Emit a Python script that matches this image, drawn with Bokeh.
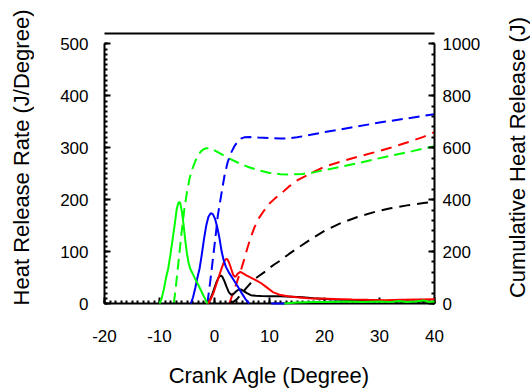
import math
from bokeh.plotting import figure
from bokeh.layouts import row
from bokeh.models import Range1d, LinearAxis, SingleIntervalTicker, FixedTicker
from bokeh.embed import file_html
from bokeh.resources import INLINE

nan = math.nan

# ---- Heat release rate (J/Degree), left axis ----
green_hrr_x = [-10.0, -9.6, -9.2, -8.8, -8.4, -8.0, -7.6, -7.2, -6.9, -6.6, -6.4, -6.2, -5.9, -5.6, -5.3, -5.0,
               -4.7, -4.4, -4.0, -3.5, -3.0, -2.5, -2.0, -1.6, -1.3,
               nan, 12.7, 15, 18, 21, 24, 27, 30, 32, 33.5, 35, 36.5, 38, 39, 40]
green_hrr_y = [0, 10, 28, 50, 68, 95, 125, 155, 180, 193, 196, 192, 175, 150, 120, 96,
               78, 67, 58, 47, 37, 26, 15, 7, 0,
               nan, 0, 2, 3, 3, 4, 3, 4, 3, 5, 3, 4, 6, 3, 4]

blue_hrr_x = [-4.3, -3.9, -3.5, -3.1, -2.7, -2.3, -1.9, -1.5, -1.1, -0.7, -0.3, 0.1, 0.5, 0.9, 1.3, 1.7,
              2.1, 2.6, 3.2, 3.8, 4.4, 5.0, 5.6, 6.3, nan, 10.3, 12.8]
blue_hrr_y = [0, 12, 30, 50, 68, 95, 125, 150, 167, 174, 172, 163, 147, 126, 100, 82,
              70, 60, 50, 40, 30, 19, 9, 0, nan, 0, 0]

red_hrr_x = [-1.2, -0.7, -0.2, 0.3, 0.8, 1.3, 1.7, 2.0, 2.3, 2.6, 3.0, 3.4, 3.8, 4.2, 4.7, 5.2, 5.8, 6.6,
             7.5, 8.5, 9.5, 10.6, 11.8, 13.3, 15, 17, 19, 22, 25, 28, 31, 34, 37, 40]
red_hrr_y = [0, 8, 20, 36, 52, 68, 79, 85, 86, 80, 68, 55, 51, 57, 61, 58, 54, 50,
             45, 39, 31, 22, 17, 14, 12, 10, 9.5, 8.5, 7.7, 7, 6.5, 7, 7.5, 8]

black_hrr_x = [-1.2, -0.8, -0.4, 0.0, 0.4, 0.8, 1.1, 1.4, 1.8, 2.2, 2.6, 3.0, 3.4, 3.9, 4.4, 4.8, 5.3, 5.9,
               6.6, 7.5, 8.5, 10, 12, 14, 16, 18, 20, 23, 26, 30, 34, 37, 40]
black_hrr_y = [0, 8, 18, 30, 42, 51, 54, 52, 43, 32, 22, 17, 18, 23, 27, 27, 24, 20,
               16, 15, 14.5, 14, 14, 13, 12, 10, 8.5, 7, 6, 5, 4, 4, 3.5]

# ---- Cumulative heat release (J), right axis ----
green_cum_x = [-7.4, -7.0, -6.5, -6.0, -5.5, -5.0, -4.5, -4.0, -3.5, -3.0, -2.5, -2.0, -1.5, -1.0, -0.5, 0,
               1, 2, 3, 4, 6, 8, 10, 12, 14, 16, 18, 20, 23, 26, 29, 32, 36, 40]
green_cum_y = [0, 70, 170, 270, 360, 430, 485, 520, 548, 570, 585, 594, 598, 598, 595, 590,
               578, 566, 555, 545, 527, 513, 503, 498, 497, 499, 505, 514, 527, 540, 555, 569, 587, 606]

blue_cum_x = [-1.3, -0.8, -0.3, 0.2, 0.6, 1.2, 1.8, 2.4, 3.0, 3.6, 4.2, 4.8, 5.4, 6.5, 8, 10, 12, 13.3,
              15, 17.5, 20, 23, 26, 30, 35, 40]
blue_cum_y = [0, 80, 170, 260, 338, 415, 490, 545, 580, 605, 623, 635, 640, 641, 639, 637, 636, 636,
              640, 650, 660, 671, 682, 697, 713, 729]

red_cum_x = [2.7, 3.2, 3.8, 4.3, 4.8, 5.4, 6.0, 6.6, 7.3, 8.1, 9.05, 10, 11, 12.1, 13.5, 15.1, 17.6,
             20, 23, 26, 29, 32, 35, 38, 40]
red_cum_y = [0, 30, 65, 97, 128, 170, 215, 256, 295, 330, 359, 385, 405, 423, 450, 475, 502,
             527, 547, 565, 582, 600, 620, 642, 660]

black_cum_x = [3.0, 4.0, 5.0, 6.0, 7.0, 8.0, 9.0, 10.0, 11, 12, 13.5, 15, 17, 20, 23, 26, 29, 32, 35, 38, 40]
black_cum_y = [0, 15, 40, 65, 88, 105, 120, 137, 152, 166, 190, 212, 240, 280, 310, 333, 352, 367, 378, 387, 392]

x_label = "Crank Agle (Degree)"
left_label = "Heat Release Rate (J/Degree)"
right_label = "Cumulative Heat Release (J)"

FONT = "Liberation Sans"
LABEL_SIZE = "22px"

p = figure(frame_width=330, frame_height=270, output_backend="svg", toolbar_location=None,
           x_range=Range1d(-20, 40), y_range=Range1d(0, 520),
           x_axis_location=None, y_axis_location=None,
           min_border_left=70, min_border_right=45, min_border_top=33, min_border_bottom=89)
p.extra_y_ranges = {"cum": Range1d(0, 1040)}
p.outline_line_color = None
p.xgrid.visible = False
p.ygrid.visible = False


def style(ax, interval, minors, bounds, tick_standoff):
    ax.ticker = SingleIntervalTicker(interval=interval, num_minor_ticks=minors)
    ax.bounds = bounds
    ax.axis_line_width = 2
    ax.axis_line_color = "black"
    ax.major_tick_in = 6
    ax.major_tick_out = 0
    ax.minor_tick_in = 3
    ax.minor_tick_out = 0
    ax.major_tick_line_width = 2
    ax.minor_tick_line_width = 2
    ax.major_tick_line_color = "black"
    ax.minor_tick_line_color = "black"
    ax.major_label_text_font = FONT
    ax.major_label_text_font_size = "17px"
    ax.major_label_text_color = "black"
    ax.major_label_standoff = tick_standoff


xax = LinearAxis()
style(xax, 10, 10, (-20, 40), 26)
xax.major_label_overrides = {-20: "-20", -10: "-10"}
xax.axis_label = x_label
xax.axis_label_text_font = FONT
xax.axis_label_text_font_size = LABEL_SIZE
xax.axis_label_text_font_style = "normal"
xax.axis_label_text_color = "black"
xax.axis_label_standoff = 18
p.add_layout(xax, "below")

lax = LinearAxis()
style(lax, 100, 10, (0, 500), 16)
p.add_layout(lax, "left")

rax = LinearAxis(y_range_name="cum")
style(rax, 200, 5, (0, 1000), 8)
p.add_layout(rax, "right")

tax = LinearAxis(ticker=FixedTicker(ticks=[]), axis_line_width=2, axis_line_color="black",
                 major_tick_in=0, major_tick_out=0, minor_tick_in=0, minor_tick_out=0,
                 major_label_text_font_size="0px")
p.add_layout(tax, "above")

W = 2
p.line(black_cum_x, black_cum_y, color="black", line_width=W, line_dash="11 7", y_range_name="cum")
p.line(red_cum_x, red_cum_y, color="#ff0000", line_width=W, line_dash="11 7", y_range_name="cum")
p.line(green_cum_x, green_cum_y, color="#00ff00", line_width=W, line_dash="11 6", y_range_name="cum")
p.line(blue_cum_x, blue_cum_y, color="#0000ff", line_width=W, line_dash="11 6", y_range_name="cum")

p.line(black_hrr_x, black_hrr_y, color="black", line_width=W, level="overlay")
p.line(red_hrr_x, red_hrr_y, color="#ff0000", line_width=W, level="overlay")
p.line(blue_hrr_x, blue_hrr_y, color="#0000ff", line_width=W, level="overlay")
p.line(green_hrr_x, green_hrr_y, color="#00ff00", line_width=W, level="overlay")


def side_title(text, border_left):
    """A narrow empty figure whose left axis carries a vertical title (reads bottom-to-top)."""
    s = figure(frame_width=1, frame_height=248, output_backend="svg", toolbar_location=None,
               x_range=Range1d(0, 1), y_range=Range1d(0, 1),
               x_axis_location=None, y_axis_location=None,
               min_border_left=border_left, min_border_right=0, min_border_top=33,
               min_border_bottom=111)
    s.outline_line_color = None
    s.xgrid.visible = False
    s.ygrid.visible = False
    ax = LinearAxis(ticker=FixedTicker(ticks=[0.5]), axis_line_color=None,
                    major_tick_line_color=None, minor_tick_line_color=None,
                    major_tick_in=0, major_tick_out=0, minor_tick_in=0, minor_tick_out=0,
                    major_label_text_color=None, major_label_text_font_size="1px",
                    major_label_standoff=0)
    ax.axis_label = text
    ax.axis_label_text_font = FONT
    ax.axis_label_text_font_size = LABEL_SIZE
    ax.axis_label_text_font_style = "normal"
    ax.axis_label_text_color = "black"
    ax.axis_label_standoff = 0
    s.add_layout(ax, "left")
    return s


s_left = side_title(left_label, 33)
s_right = side_title(right_label, 46)

layout = row(s_left, p, s_right, spacing=0)

open("out.html", "w").write(file_html(layout, INLINE))
